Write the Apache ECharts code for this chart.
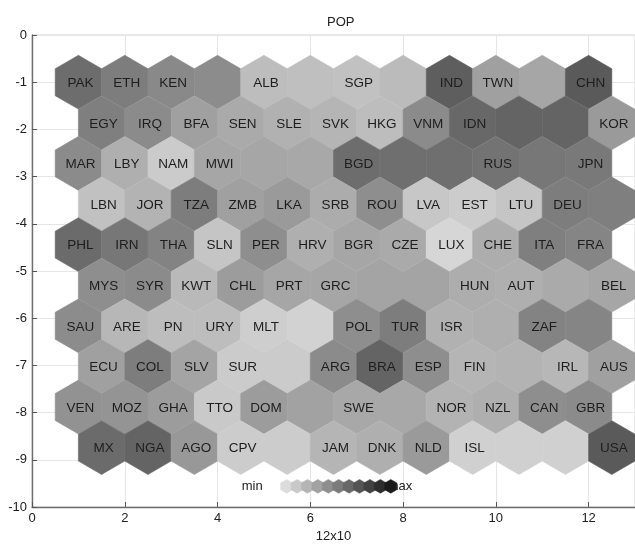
<!DOCTYPE html>
<html><head><meta charset="utf-8">
<script src="https://cdn.jsdelivr.net/npm/echarts@6/dist/echarts.min.js"></script>
<style>html,body{margin:0;padding:0;background:#fff}#c{width:635px;height:548px}</style>
</head><body><div id="c"></div>
<script>
// ---- data: labels per lattice row (12 units each) ----
const labelsRow1  = ['PAK','ETH','KEN','','ALB','','SGP','','IND','TWN','','CHN'];
const labelsRow2  = ['EGY','IRQ','BFA','SEN','SLE','SVK','HKG','VNM','IDN','','','KOR'];
const labelsRow3  = ['MAR','LBY','NAM','MWI','','','BGD','','','RUS','','JPN'];
const labelsRow4  = ['LBN','JOR','TZA','ZMB','LKA','SRB','ROU','LVA','EST','LTU','DEU',''];
const labelsRow5  = ['PHL','IRN','THA','SLN','PER','HRV','BGR','CZE','LUX','CHE','ITA','FRA'];
const labelsRow6  = ['MYS','SYR','KWT','CHL','PRT','GRC','','','HUN','AUT','','BEL'];
const labelsRow7  = ['SAU','ARE','PN','URY','MLT','','POL','TUR','ISR','','ZAF',''];
const labelsRow8  = ['ECU','COL','SLV','SUR','','ARG','BRA','ESP','FIN','','IRL','AUS'];
const labelsRow9  = ['VEN','MOZ','GHA','TTO','DOM','','SWE','','NOR','NZL','CAN','GBR'];
const labelsRow10 = ['MX','NGA','AGO','CPV','','JAM','DNK','NLD','ISL','','','USA'];

// ---- data: POP component plane value per unit (0 = min, 1 = max) ----
const popRow1  = [0.57,0.49,0.43,0.41,0.16,0.15,0.14,0.17,0.65,0.31,0.28,0.67];
const popRow2  = [0.48,0.42,0.31,0.26,0.22,0.20,0.16,0.42,0.60,0.62,0.62,0.34];
const popRow3  = [0.42,0.23,0.09,0.28,0.28,0.27,0.57,0.56,0.56,0.54,0.52,0.51];
const popRow4  = [0.14,0.21,0.49,0.31,0.34,0.25,0.40,0.11,0.08,0.12,0.49,0.48];
const popRow5  = [0.58,0.52,0.46,0.12,0.40,0.23,0.28,0.26,0.03,0.24,0.48,0.45];
const popRow6  = [0.40,0.42,0.18,0.33,0.28,0.28,0.29,0.29,0.24,0.23,0.26,0.28];
const popRow7  = [0.41,0.19,0.16,0.16,0.07,0.05,0.40,0.49,0.22,0.23,0.46,0.45];
const popRow8  = [0.31,0.49,0.29,0.09,0.09,0.42,0.62,0.40,0.20,0.21,0.19,0.31];
const popRow9  = [0.38,0.37,0.33,0.10,0.33,0.30,0.27,0.27,0.21,0.23,0.40,0.42];
const popRow10 = [0.58,0.62,0.35,0.08,0.08,0.20,0.23,0.34,0.06,0.06,0.06,0.67];

// colour-bar levels (min -> max)
const legendLevels = [0,0.1,0.2,0.3,0.4,0.5,0.6,0.7,0.8,0.9,1.0];

const titleText = 'POP';
const xAxisName = '12x10';

// ---- build lattice ----
const labelRows = [labelsRow1,labelsRow2,labelsRow3,labelsRow4,labelsRow5,labelsRow6,labelsRow7,labelsRow8,labelsRow9,labelsRow10];
const popRows = [popRow1,popRow2,popRow3,popRow4,popRow5,popRow6,popRow7,popRow8,popRow9,popRow10];
const ROW_STEP = 0.86, HEX_A = 0.57;
const hexData = [], hexLabels = [];
popRows.forEach((row, r) => row.forEach((v, c) => {
  hexData.push([c + 1 + (r % 2 ? 0.5 : 0), -1 - r * ROW_STEP, v]);
  hexLabels.push(labelRows[r][c]);
}));
function grey(v) { const g = Math.round(220 - v * 194); return 'rgb(' + g + ',' + g + ',' + g + ')'; }
function hexPts(cx, cy, hw, a) {
  return [[cx, cy - a], [cx + hw, cy - a / 2], [cx + hw, cy + a / 2], [cx, cy + a], [cx - hw, cy + a / 2], [cx - hw, cy - a / 2]];
}
const FONT = '"Liberation Sans", Arial, sans-serif';

const chart = echarts.init(document.getElementById('c'), null, {renderer: 'canvas'});
chart.setOption({
  animation: false,
  backgroundColor: '#fff',
  title: {text: titleText, left: 322, top: 11, textStyle: {fontSize: 13, fontWeight: 'normal', color: '#222', fontFamily: FONT}},
  grid: {left: 32, top: 35, width: 608.4, height: 480, show: true, borderColor: '#d4d4d4', borderWidth: 1, backgroundColor: '#fff'},
  xAxis: {
    type: 'value', min: 0, max: 13, interval: 2,
    name: xAxisName, nameLocation: 'middle', nameGap: 20,
    nameTextStyle: {fontSize: 13, color: '#222', fontFamily: FONT},
    axisLine: {show: true, onZero: false, lineStyle: {color: '#6e6e6e', width: 1.4}},
    axisTick: {show: true, inside: true, length: 5, lineStyle: {color: '#555'}},
    axisLabel: {fontSize: 13, color: '#222', margin: 5, fontFamily: FONT, showMaxLabel: false},
    splitLine: {show: true, lineStyle: {color: '#e6e6e6'}}
  },
  yAxis: {
    type: 'value', min: -10, max: 0, interval: 1,
    axisLine: {show: true, onZero: false, lineStyle: {color: '#6e6e6e', width: 1.4}},
    axisTick: {show: true, inside: true, length: 5, lineStyle: {color: '#555'}},
    axisLabel: {fontSize: 13, color: '#222', margin: 5, fontFamily: FONT},
    splitLine: {show: true, lineStyle: {color: '#e6e6e6'}}
  },
  series: [
    {
      type: 'custom', z: 2, clip: false, data: hexData,
      renderItem: (params, api) => {
        const c = api.coord([api.value(0), api.value(1)]);
        const s = api.size([1, 1]);
        const col = grey(api.value(2));
        return {type: 'polygon', shape: {points: hexPts(c[0], c[1], 0.5 * s[0], HEX_A * s[1])},
                style: {fill: col, stroke: col, lineWidth: 0.6}};
      }
    },
    {
      type: 'custom', z: 3, clip: false, data: hexData,
      renderItem: (params, api) => {
        const c = api.coord([api.value(0), api.value(1)]);
        return {type: 'text', style: {text: hexLabels[params.dataIndex], x: c[0] + 2, y: c[1] + 1,
                align: 'center', verticalAlign: 'middle', fill: '#1e1e1e', font: '13.5px ' + FONT}};
      }
    },
    {
      type: 'custom', z: 4, clip: false, data: legendLevels.map((v, i) => [i, v]),
      renderItem: (params, api) => {
        const i = api.value(0);
        const c = api.coord([5.49 + i * 0.2245, -9.56]);
        const col = grey(api.value(1));
        const children = [];
        if (i === 0) children.push({type: 'text', style: {text: 'min', x: c[0] - 24, y: c[1], align: 'right', verticalAlign: 'middle', fill: '#222', font: '13px ' + FONT}});
        if (i === legendLevels.length - 1) children.push({type: 'text', style: {text: 'max', x: c[0] - 3, y: c[1], align: 'left', verticalAlign: 'middle', fill: '#222', font: '13px ' + FONT}});
        children.push({type: 'polygon', shape: {points: hexPts(c[0], c[1], 6, 6.9)}, style: {fill: col, stroke: col, lineWidth: 0.5}});
        return {type: 'group', children};
      }
    }
  ]
});
</script>
</body></html>
